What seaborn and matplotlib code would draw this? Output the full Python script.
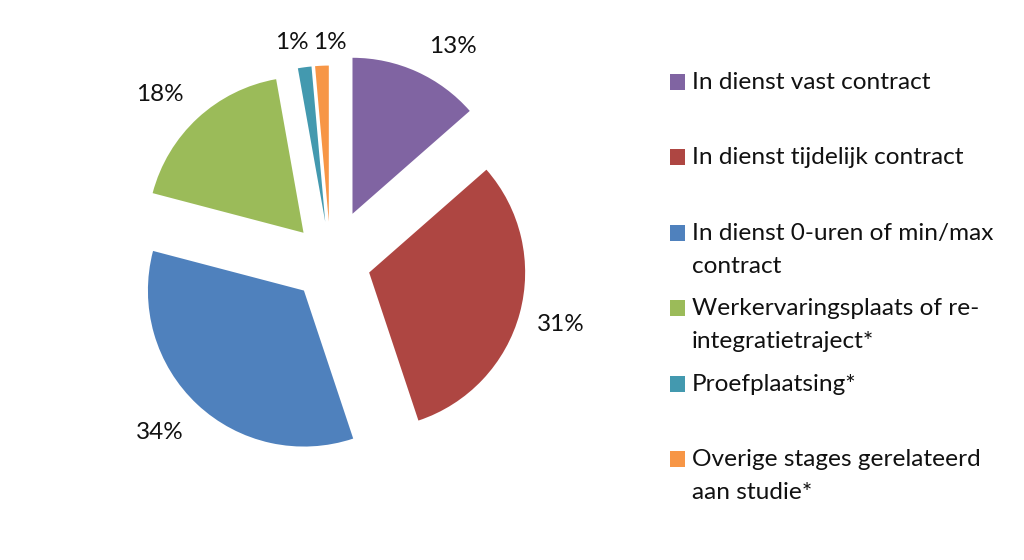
import numpy as np
import seaborn as sns
import matplotlib.pyplot as plt

# data (share in %)
categories = ["In dienst vast contract",
              "In dienst tijdelijk contract",
              "In dienst 0-uren of min/max\ncontract",
              "Werkervaringsplaats of re-\nintegratietraject*",
              "Proefplaatsing*",
              "Overige stages gerelateerd\naan studie*"]
shares = [13.5, 31.25, 34.1, 18.05, 1.4, 1.4]
pct_labels = ["13%", "31%", "34%", "18%", "1%", "1%"]

colors = ["#8064A2", "#AE4642", "#4F81BD", "#9BBB59", "#4399AF", "#F79646"]
explode = [0.34, 0.256, 0.25, 0.256, 0.26, 0.26]
label_dist = [1.25, 1.275, 1.295, 1.275, 1.17, 1.15]
label_turn = [-6.5, 0, -2.4, 3.4, 3.0, -2.9]   # degrees, like excel's label placement

sns.set_theme(style="white")
plt.rcParams['font.family'] = ['Lato', 'DejaVu Sans']
pal = sns.color_palette(colors)

fig = plt.figure(figsize=(10.24, 5.6), dpi=100)
ax = fig.add_axes([96.6/1024, 63.9/560, 468/1024, 468/560])
wedges, _ = ax.pie(shares, colors=pal, explode=explode, startangle=90,
                   counterclock=False, radius=1.0,
                   wedgeprops=dict(linewidth=0))
ax.set_xlim(-1.5, 1.5)
ax.set_ylim(-1.5, 1.5)
ax.set_aspect("equal")
ax.axis("off")

# percentage labels outside each wedge
for w, txt, d, turn in zip(wedges, pct_labels, label_dist, label_turn):
    mid = np.deg2rad((w.theta1 + w.theta2) / 2 + turn)
    cx, cy = w.center
    ax.text(cx + d * np.cos(mid), cy + d * np.sin(mid), txt,
            ha="center", va="center", fontsize=17.5, color="#111111")

# every legend label takes two lines, like the original layout
leg_labels = [c if "\n" in c else c + "\n " for c in categories]
leg = fig.legend(wedges, leg_labels, loc="upper left",
                 bbox_to_anchor=(670/1024, 1 - 72/560),
                 frameon=False, fontsize=17.6, handlelength=0.62,
                 handleheight=0.62, handletextpad=0.28, labelspacing=0.89,
                 borderpad=0, borderaxespad=0)
for t in leg.get_texts():
    t.set_linespacing(1.69)
    t.set_color("#111111")
# put the colour square next to the first line instead of the middle
for p in leg.get_patches():
    p.set_y(p.get_y() + 12.3)

fig.savefig("out.png", dpi=100)
